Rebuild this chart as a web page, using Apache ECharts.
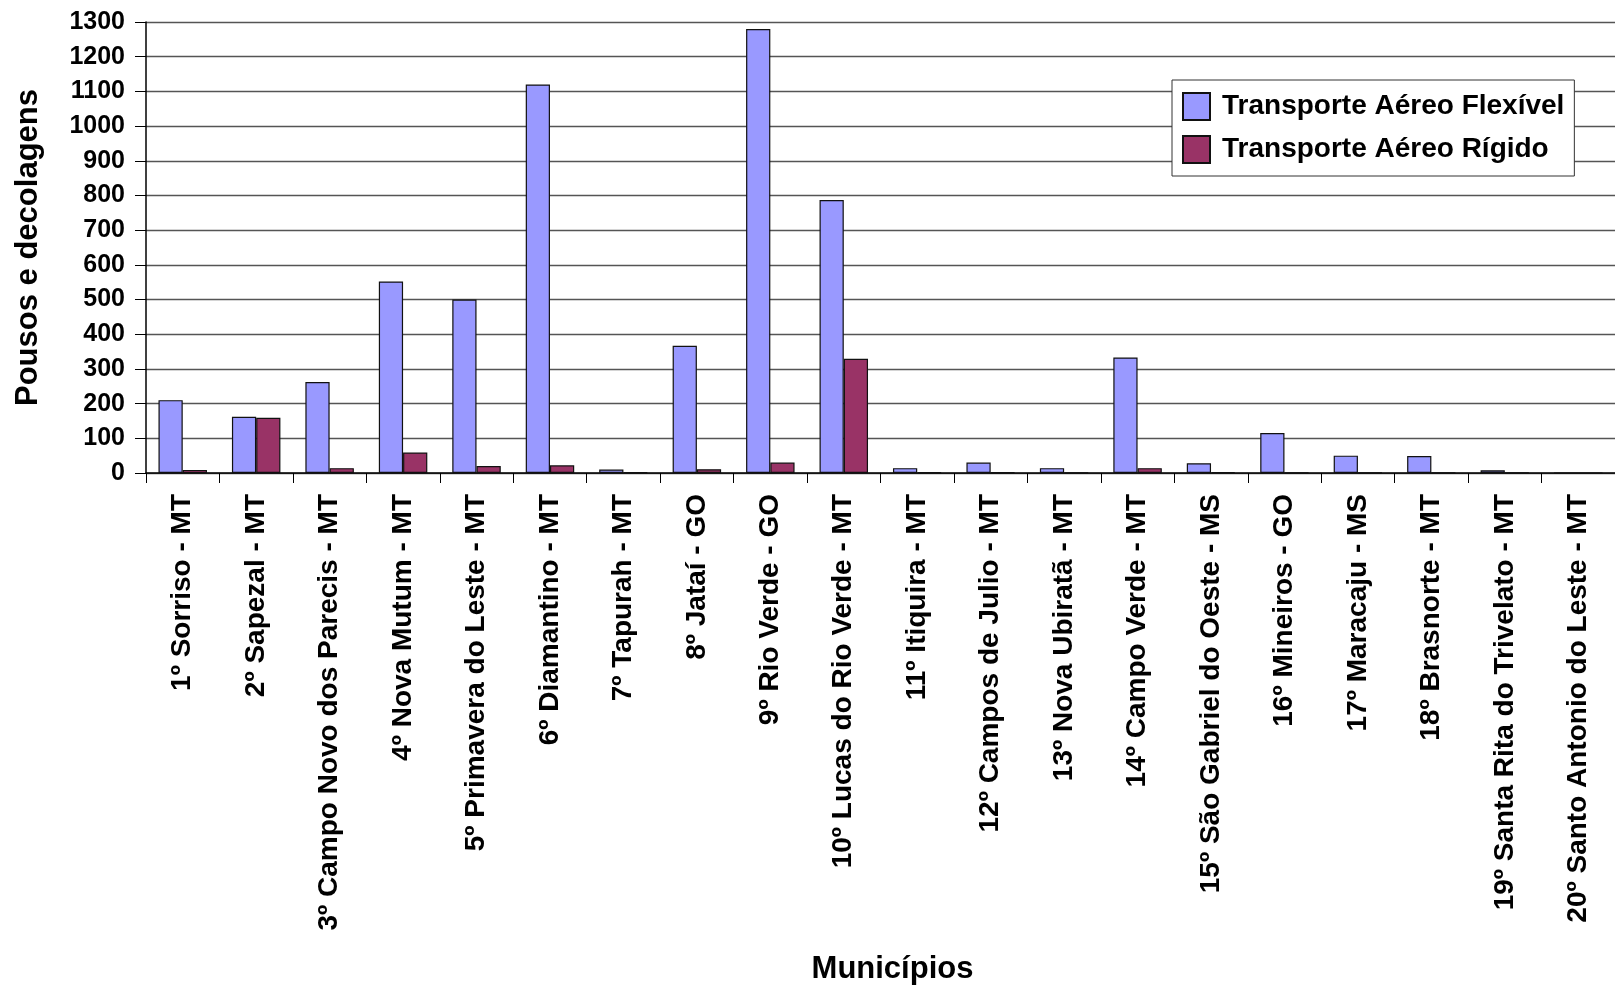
<!DOCTYPE html>
<html>
<head>
<meta charset="utf-8">
<script src="https://cdn.jsdelivr.net/npm/echarts@6/dist/echarts.min.js"></script>
<style>
html,body{margin:0;padding:0;background:#fff;}
#chart{width:1615px;height:986px;}
</style>
</head>
<body>
<div id="chart"></div>
<script>
const categories = [
  "1º Sorriso - MT", "2º Sapezal - MT", "3º Campo Novo dos Parecis - MT", "4º Nova Mutum - MT",
  "5º Primavera do Leste - MT", "6º Diamantino - MT", "7º Tapurah - MT", "8º Jataí - GO",
  "9º Rio Verde - GO", "10º Lucas do Rio Verde - MT", "11º Itiquira - MT", "12º Campos de Julio - MT",
  "13º Nova Ubiratã - MT", "14º Campo Verde - MT", "15º São Gabriel do Oeste - MS", "16º Mineiros - GO",
  "17º Maracaju - MS", "18º Brasnorte - MT", "19º Santa Rita do Trivelato - MT", "20º Santo Antonio do Leste - MT"
];
const flexivel = [210, 162, 262, 552, 500, 1120, 10, 367, 1280, 787, 14, 30, 14, 333, 28, 115, 50, 49, 8, 0];
const rigido   = [9, 159, 14, 59, 20, 22, 2, 11, 30, 329, 2, 2, 1, 14, 3, 1, 1, 1, 1, 0];
const seriesNames = ["Transporte Aéreo Flexível", "Transporte Aéreo Rígido"];
const yTicks = { min: 0, max: 1300, interval: 100 };

const FONT = '"Liberation Sans", Arial, sans-serif';
const chart = echarts.init(document.getElementById('chart'));
chart.setOption({
  animation: false,
  backgroundColor: '#ffffff',
  grid: { left: 146, right: -15, top: 22, bottom: 508, containLabel: false },
  legend: {
    orient: 'vertical',
    left: 1172, top: 80,
    padding: [12, 10, 12, 10],
    itemWidth: 27, itemHeight: 27, itemGap: 14,
    icon: 'rect',
    borderColor: '#333', borderWidth: 1,
    backgroundColor: '#fff',
    textStyle: { fontFamily: FONT, fontWeight: 'bold', fontSize: 28, color: '#000', padding: [0, 0, 0, 7] },
    data: seriesNames
  },
  xAxis: {
    type: 'category',
    data: categories,
    name: 'Municípios',
    nameLocation: 'middle',
    nameGap: 481,
    nameTextStyle: { fontFamily: FONT, fontWeight: 'bold', fontSize: 31, color: '#000', padding: [0, 0, 0, 24] },
    axisLine: { lineStyle: { color: '#000', width: 1.5 } },
    axisTick: { show: true, length: 10, lineStyle: { color: '#000' } },
    axisLabel: { rotate: 90, interval: 0, margin: 21, fontFamily: FONT, fontWeight: 'bold', fontSize: 28, color: '#000' }
  },
  yAxis: {
    type: 'value',
    min: yTicks.min, max: yTicks.max, interval: yTicks.interval,
    name: 'Pousos e decolagens',
    nameLocation: 'middle',
    nameGap: 102,
    nameRotate: 90,
    nameTextStyle: { fontFamily: FONT, fontWeight: 'bold', fontSize: 31, color: '#000' },
    axisLine: { show: true, lineStyle: { color: '#000', width: 1.5 } },
    axisTick: { show: true, length: 11, lineStyle: { color: '#000' } },
    axisLabel: { margin: 21, fontFamily: FONT, fontWeight: 'bold', fontSize: 25, color: '#000', formatter: v => String(v) },
    splitLine: { show: true, lineStyle: { color: '#555', width: 1.3 } }
  },
  series: [
    {
      name: seriesNames[0], type: 'bar', data: flexivel,
      barGap: '0%', barCategoryGap: '34%',
      itemStyle: { color: '#9999FF', borderColor: '#111', borderWidth: 1.2 }
    },
    {
      name: seriesNames[1], type: 'bar', data: rigido,
      barGap: '0%', barCategoryGap: '34%',
      itemStyle: { color: '#993366', borderColor: '#111', borderWidth: 1.2 }
    }
  ]
});
</script>
</body>
</html>
